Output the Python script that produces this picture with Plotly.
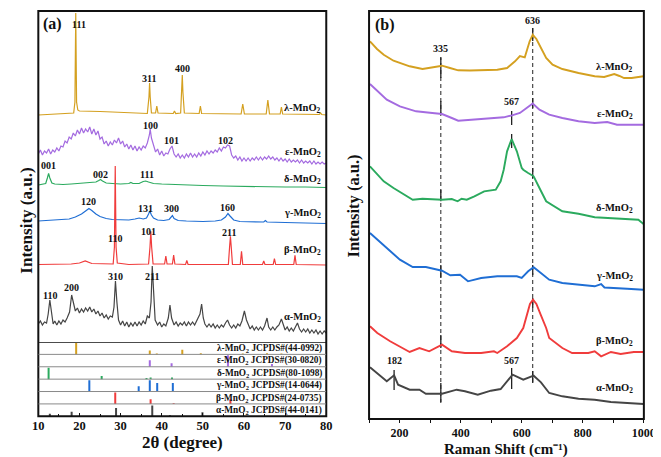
import plotly.graph_objects as go

# ---------------- DATA ----------------
names = ["λ-MnO<sub>2</sub>", "ε-MnO<sub>2</sub>", "δ-MnO<sub>2</sub>",
         "γ-MnO<sub>2</sub>", "β-MnO<sub>2</sub>", "α-MnO<sub>2</sub>"]
colors = ["#D4A020", "#A46BE0", "#2BAA5E", "#1F6ED4", "#F03C3C", "#454545"]
jcpds = ["λ-MnO<sub>2</sub> JCPDS#(44-0992)", "ε-MnO<sub>2</sub> JCPDS#(30-0820)",
         "δ-MnO<sub>2</sub> JCPDS#(80-1098)", "γ-MnO<sub>2</sub> JCPDS#(14-0644)",
         "β-MnO<sub>2</sub> JCPDS#(24-0735)", "α-MnO<sub>2</sub> JCPDS#(44-0141)"]

# XRD patterns (2theta, stacked intensity a.u.)
xrd_lam_t = [10, 12, 15, 17, 18.6, 18.9, 19.1, 19.3, 19.6, 20, 22, 25, 28, 31, 34, 36.5, 36.9, 37.05, 37.2, 37.5,
             38.5, 38.8, 39.1, 42.8, 43.1, 43.4, 44.6, 44.85, 45.0, 45.15, 45.5, 49.1, 49.4, 49.7, 59.3, 59.7,
             60.1, 65.4, 65.8, 66.2, 68.8, 69.1, 69.4, 78.3, 78.6, 78.9, 80]
xrd_lam_i = [227, 227.5, 228, 228.5, 229, 240, 329, 240, 232, 231, 231, 230.5, 230, 229.5, 229, 228.5, 245, 259, 245, 229,
             229, 236, 229, 228.5, 231, 228.5, 229, 250, 267, 250, 229, 228.5, 236, 228.5, 228, 238,
             228, 228, 242, 228, 228, 235, 228, 227.5, 229, 227.5, 227]

xrd_eps_t = [10, 10.5, 11, 11.5, 12, 12.5, 13, 13.5, 14, 14.5, 15, 15.5, 16, 16.5, 17, 17.5, 18, 18.5, 19, 19.5,
             20, 20.5, 21, 21.5, 22, 22.5, 23, 23.5, 24, 24.5, 25, 25.5, 26, 26.5, 27, 27.5, 28, 28.5, 29, 29.5,
             30, 30.5, 31, 31.5, 32, 32.5, 33, 33.5, 34, 34.5, 35, 35.5, 36, 36.5, 37, 37.2, 37.5, 38, 38.5, 39,
             39.5, 40, 40.5, 41, 41.5, 42, 42.5, 43, 43.5, 44, 44.5, 45, 45.5, 46, 46.5, 47, 47.5, 48, 48.5, 49,
             49.5, 50, 50.5, 51, 51.5, 52, 52.5, 53, 53.5, 54, 54.5, 55, 55.5, 56, 56.5, 57, 57.5, 58, 58.5, 59,
             59.5, 60, 60.5, 61, 61.5, 62, 62.5, 63, 63.5, 64, 64.5, 65, 65.5, 66, 66.5, 67, 67.5, 68, 68.5, 69,
             69.5, 70, 70.5, 71, 71.5, 72, 72.5, 73, 73.5, 74, 74.5, 75, 75.5, 76, 76.5, 77, 77.5, 78, 78.5, 79,
             79.5, 80]
xrd_eps_i = [188, 192, 187, 191, 189, 193, 188, 192, 190, 194, 191, 196, 195, 201, 199, 205, 203, 209, 206, 212,
             208, 214, 209, 213, 210, 215, 208, 213, 207, 211, 203, 205, 198, 201, 196, 200, 197, 202, 199, 204,
             198, 201, 195, 198, 193, 197, 192, 196, 191, 195, 192, 196, 194, 199, 207, 213, 204, 196, 190, 193,
             187, 191, 186, 189, 188, 193, 196, 188, 185, 188, 184, 187, 184, 188, 185, 189, 185, 188, 185, 189,
             186, 190, 187, 191, 188, 191, 189, 192, 190, 194, 191, 195, 194, 197, 196, 187, 184, 186, 182, 185,
             181, 184, 181, 184, 181, 184, 182, 185, 182, 185, 182, 185, 183, 186, 183, 185, 182, 184, 181, 184,
             181, 183, 180, 183, 180, 182, 180, 182, 179, 182, 179, 181, 179, 181, 178, 181, 178, 180, 178, 180,
             178, 179]

xrd_del_t = [10, 11, 11.8, 12.2, 12.5, 12.8, 13.3, 14, 16, 18, 20, 22, 24, 24.7, 25.1, 25.6, 26.5, 28, 30, 32, 32.5,
             33, 34.5, 35.5, 36.1, 36.8, 38, 40, 45, 50, 55, 60, 65, 70, 75, 80]
xrd_del_i = [157, 157.5, 158.5, 164, 168.5, 164, 159, 158, 157.5, 158, 158.5, 159, 160, 161.5, 162.5, 161, 159, 158.5,
             158, 158.5, 159.5, 158.5, 158.5, 160.5, 161, 160, 158.5, 158, 157, 156.5, 156, 155.5, 155.5, 155, 155,
             154.5]

xrd_gam_t = [10, 12, 14, 16, 17.5, 19, 20.5, 21.5, 22.3, 23, 24, 25, 26.5, 28, 30, 32, 33.5, 34.5, 35.5, 36.3, 36.8,
             37.1, 37.5, 38, 39, 40.5, 41.8, 42.3, 42.6, 43, 44, 46, 50, 53, 54.5, 55.5, 56.1, 56.6, 57.5, 59, 62,
             64.8, 65.2, 65.6, 70, 75, 80]
xrd_gam_i = [121, 121.5, 121.5, 122, 123, 125, 128, 131, 133.5, 131.5, 128, 125.5, 123.5, 122.5, 122, 122, 123, 124,
             123, 124, 128, 131, 127, 124, 122, 121.5, 122.5, 125.5, 126.5, 123.5, 121.5, 121, 120.5, 121, 122, 125,
             128.5, 126, 122, 120.5, 120, 120, 121.5, 120, 119.5, 119, 118.5]

xrd_bet_t = [10, 15, 18, 20, 21.4, 23, 26, 28.2, 28.5, 28.7, 28.9, 29.2, 32, 36.8, 37.15, 37.35, 37.55, 37.9, 40.7,
             41.0, 41.3, 42.6, 42.9, 43.2, 45.8, 46.1, 46.4, 56.2, 56.5, 56.7, 56.9, 57.2, 59.1, 59.4, 59.7, 64.5,
             64.8, 65.1, 67.1, 67.4, 67.7, 72.1, 72.4, 72.7, 80]
xrd_bet_i = [77.5, 77.5, 78, 79, 81, 78.5, 78, 78, 95, 176, 95, 79, 77.5, 78, 95, 110.7, 95, 78, 78,
             86, 78, 78, 87, 78, 77.5, 81.5, 77.5, 77.5, 95, 105.7, 95, 77.5, 77.5, 90.7, 77.5, 77.5,
             81, 77.5, 77.5, 83.3, 77.5, 77.5, 86.7, 77.5, 77]

xrd_alp_t = [10, 10.5, 11, 11.5, 12, 12.4, 12.8, 13.2, 13.6, 14, 14.5, 15, 15.5, 16, 16.5, 17, 17.6, 18.1, 18.6, 19,
             19.5, 20, 20.5, 21, 21.5, 22, 22.5, 23, 23.5, 24, 24.5, 25, 25.5, 26, 26.5, 27, 27.5, 28, 28.4, 28.75,
             29.1, 29.5, 30, 30.5, 31, 31.5, 32, 32.5, 33, 33.5, 34, 34.5, 35, 35.5, 36, 36.5, 37, 37.4, 37.7, 38.0,
             38.4, 39, 39.5, 40, 40.5, 41, 41.6, 42.0, 42.4, 43, 43.5, 44, 44.5, 45, 45.5, 46, 46.5, 47, 47.5, 48,
             48.5, 49.3, 49.7, 50.1, 50.5, 51, 51.5, 52, 52.5, 53, 53.5, 54, 54.5, 55, 55.5, 56, 56.5, 57, 57.5, 58,
             58.5, 59, 59.5, 60.1, 60.6, 61, 61.5, 62, 62.5, 63, 63.5, 64, 64.5, 65, 65.6, 66, 66.5, 67, 67.5, 68,
             68.5, 69.1, 69.6, 70, 70.5, 71, 71.5, 72, 72.5, 73, 73.5, 74, 74.5, 75, 75.5, 76, 76.5, 77, 77.5, 78,
             78.5, 79, 79.5, 80]
xrd_alp_i = [18, 21, 17, 20, 19, 28, 42, 27, 18, 21, 17, 21, 18, 22, 20, 24, 30, 47, 36, 31,
             34, 29, 33, 30, 34, 31, 35, 30, 33, 28, 31, 26, 29, 24, 27, 23, 26, 25, 35, 61,
             40, 22, 17, 21, 16, 20, 15, 19, 16, 20, 16, 20, 17, 21, 18, 26, 24, 40, 76, 45,
             22, 17, 20, 15, 18, 16, 24, 37, 24, 17, 20, 16, 19, 17, 20, 16, 20, 17, 20, 17,
             21, 28, 38, 24, 18, 15, 18, 15, 18, 14, 17, 14, 17, 15, 19, 22, 17, 14, 17, 14,
             18, 16, 21, 31, 22, 17, 13, 16, 12, 15, 12, 15, 12, 16, 24, 15, 12, 15, 12, 15,
             17, 23, 16, 12, 15, 11, 14, 11, 15, 19, 13, 10, 13, 10, 13, 9, 12, 9, 12, 8,
             11, 8, 11, 9]

xrd_t = [xrd_lam_t, xrd_eps_t, xrd_del_t, xrd_gam_t, xrd_bet_t, xrd_alp_t]
xrd_i = [xrd_lam_i, xrd_eps_i, xrd_del_i, xrd_gam_i, xrd_bet_i, xrd_alp_i]

# JCPDS reference sticks (2theta, relative intensity)
ref_pos = [[19.2, 37.1, 38.8, 45.0, 49.5, 59.7, 65.6, 69.1],
           [37.1, 42.4, 56.1, 66.8],
           [12.5, 25.4, 36.3, 37.3, 42.5],
           [22.4, 34.4, 37.1, 38.9, 42.7],
           [28.7, 37.3, 42.9, 56.7],
           [12.8, 18.1, 28.9, 37.7, 42.0, 49.9]]
ref_int = [[1.0, 0.35, 0.08, 0.4, 0.1, 0.08, 0.1, 0.08],
           [0.57, 0.3, 1.0, 0.25],
           [1.0, 0.27, 0.1, 0.15, 0.15],
           [1.0, 0.46, 1.0, 0.75, 0.75],
           [1.0, 0.4, 0.05, 0.4],
           [0.22, 0.4, 0.73, 0.95, 0.1, 0.35]]

# Raman spectra (cm-1, stacked intensity a.u.)
ram_lam_x = [103, 126, 148, 180, 233, 275, 305, 339, 365, 392, 430, 467, 520, 552, 578, 594, 610, 626, 636,
             648, 658, 680, 701, 733, 786, 839, 870, 903, 920, 935, 960, 999]
ram_lam_y = [377.7, 370, 364.3, 358.3, 352.7, 350, 351.5, 353.3, 351, 348.7, 348.5, 348.7, 349.3, 351, 357.7,
             363, 361.7, 377.7, 384.3, 380, 374.3, 361, 354.3, 350, 346, 342.7, 342, 345, 343, 341, 341, 342.7]
ram_eps_x = [103, 127, 158, 201, 254, 307, 339, 371, 392, 435, 488, 541, 568, 594, 616, 636, 658, 690, 733,
             786, 839, 860, 880, 912, 950, 999]
ram_eps_y = [335, 327.7, 319.3, 312.7, 307.7, 306, 305, 301, 298.3, 299.3, 300.3, 301.7, 303.7, 306, 311,
             315.5, 309.3, 304.3, 301, 297.7, 296, 296.5, 297, 294.3, 294.5, 294.3]
ram_del_x = [103, 148, 180, 243, 275, 339, 371, 390, 403, 420, 445, 477, 515, 531, 541, 552, 567, 584, 600,
             605, 621, 639, 658, 680, 733, 786, 839, 880, 945, 982, 999]
ram_del_y = [252.7, 237.7, 231, 219.3, 220.3, 219.3, 220, 217.7, 220.3, 219.3, 222.7, 227.7, 229.3, 237.7,
             249.3, 267.7, 280, 267.7, 251, 249.3, 246, 242.7, 231, 217.7, 207.7, 205.3, 201.7, 201, 199.3,
             199.3, 195]
ram_gam_x = [103, 148, 180, 201, 243, 286, 339, 366, 398, 424, 467, 520, 584, 600, 621, 639, 658, 690, 733,
             786, 839, 860, 871, 945, 999]
ram_gam_y = [186, 174.3, 165, 159.3, 152, 152, 148.3, 143.7, 144.3, 137.7, 141, 142.7, 142.7, 141, 147.7,
             151.7, 147, 139.3, 136, 134.3, 132.7, 135, 131.5, 130.3, 129.3]
ram_bet_x = [103, 127, 169, 201, 233, 265, 297, 339, 371, 414, 467, 509, 520, 552, 584, 605, 616, 627, 637,
             648, 662, 680, 690, 733, 765, 818, 839, 860, 892, 924, 967, 999]
ram_bet_y = [92.7, 86, 77.7, 72.7, 67, 71, 67.7, 74.3, 67.7, 66, 66, 67.7, 66, 72.7, 81, 91, 104.3, 115,
             119.3, 115, 104.3, 91, 81, 71, 66, 66, 67.7, 62.7, 67, 65, 67, 67]
ram_alp_x = [103, 127, 158, 182, 195, 233, 265, 286, 339, 387, 414, 456, 499, 531, 552, 570, 605, 639, 663,
             690, 733, 786, 839, 892, 999]
ram_alp_y = [51.7, 46, 37.7, 43.7, 34.3, 29.3, 29.3, 25.3, 25.3, 29.3, 27.7, 24.3, 28.3, 30, 37.7, 44.3,
             39.3, 43.3, 36.7, 26, 22.7, 20.3, 19.3, 17, 15]
ram_x = [ram_lam_x, ram_eps_x, ram_del_x, ram_gam_x, ram_bet_x, ram_alp_x]
ram_y = [ram_lam_y, ram_eps_y, ram_del_y, ram_gam_y, ram_bet_y, ram_alp_y]

# peak labels
xrd_lbl_text = ["111", "311", "400", "100", "101", "102", "001", "002", "111", "120", "131", "300", "160",
                "110", "101", "211", "110", "200", "310", "211"]
xrd_lbl_t = [19.8, 37.0, 45.0, 37.2, 42.4, 55.6, 12.4, 25.1, 36.5, 22.1, 36.0, 42.4, 55.9,
             28.7, 36.7, 56.3, 12.8, 18.0, 28.7, 37.6]
xrd_lbl_i = [318, 264, 274, 217, 202, 202, 177, 168, 168, 141, 134, 133.3, 135,
             103.3, 111, 109.7, 46.3, 55, 66, 65.7]
xrd_name_i = [234, 190, 162.5, 129, 92, 25]
ram_name_y = [351.7, 305, 211, 142.7, 77.7, 30.3]
ram_lbl_text = ["636", "335", "567", "182", "567"]
ram_lbl_x = [636, 335, 567, 182, 567]
ram_lbl_y = [398.3, 371, 317.7, 58.7, 58.7]
dash_x = [335, 636]
dash_top = [361, 391]
dash_bot = [16, 37]
# solid markers: (position, lower, upper)
mark_x = [335, 335, 335, 335, 335, 335, 636, 636, 636, 636, 636, 636, 567, 567, 567, 182]
mark_lo = [341, 305, 217.7, 141, 71, 17, 378, 311, 241, 144, 111, 36, 294, 271, 30, 29]
mark_hi = [362, 318, 229.3, 154, 84, 36, 391, 321, 251, 154, 121, 48, 308, 285, 51, 49]

# ---------------- FIGURE ----------------
W, H = 661, 457
FONT = "Liberation Serif"


def px(x):
    return x / W


def py(y):
    return 1 - y / H


fig = go.Figure()

for k in range(6):
    fig.add_trace(go.Scatter(x=xrd_t[k], y=xrd_i[k], mode="lines", xaxis="x", yaxis="y",
                             line=dict(color=colors[k], width=1.2), showlegend=False, hoverinfo="skip"))

# sticks
for k in range(6):
    base = 5 - k
    sx, sy = [], []
    for p, h in zip(ref_pos[k], ref_int[k]):
        sx += [p, p, None]
        sy += [base, base + 0.92 * h, None]
    fig.add_trace(go.Scatter(x=sx, y=sy, mode="lines", xaxis="x", yaxis="y2",
                             line=dict(color=colors[k], width=2), showlegend=False, hoverinfo="skip"))

# Raman dashed lines
for xv, t, b in zip(dash_x, dash_top, dash_bot):
    fig.add_trace(go.Scatter(x=[xv, xv], y=[b, t], mode="lines", xaxis="x2", yaxis="y3",
                             line=dict(color="#222", width=1, dash="4px,3px"), showlegend=False, hoverinfo="skip"))
mx, my = [], []
for xv, lo, hi in zip(mark_x, mark_lo, mark_hi):
    mx += [xv, xv, None]
    my += [lo, hi, None]
fig.add_trace(go.Scatter(x=mx, y=my, mode="lines", xaxis="x2", yaxis="y3",
                         line=dict(color="#222", width=1.3), showlegend=False, hoverinfo="skip"))

for k in range(6):
    fig.add_trace(go.Scatter(x=ram_x[k], y=ram_y[k], mode="lines", xaxis="x2", yaxis="y3",
                             line=dict(color=colors[k], width=1.9),
                             showlegend=False, hoverinfo="skip"))

ann = []
bold = dict(family=FONT, color="#111", weight="bold")
C = dict(xanchor="center", yanchor="middle", showarrow=False)
R = dict(xanchor="right", yanchor="middle", showarrow=False)
for txt, t, i in zip(xrd_lbl_text, xrd_lbl_t, xrd_lbl_i):
    ann.append(dict(x=t, y=i, xref="x", yref="y", text=txt, font=dict(size=10, **bold), **C))
for k in range(6):
    ann.append(dict(x=79.2, y=xrd_name_i[k], xref="x", yref="y", text=names[k],
                    font=dict(size=10.5, **bold), **R))
    ann.append(dict(x=79.5, y=5 - k + 0.47, xref="x", yref="y2", text=jcpds[k],
                    font=dict(size=9.3, **bold), **R))
    ann.append(dict(x=972, y=ram_name_y[k], xref="x2", yref="y3", text=names[k],
                    font=dict(size=10.5, **bold), **R))
for txt, xv, yv in zip(ram_lbl_text, ram_lbl_x, ram_lbl_y):
    ann.append(dict(x=xv, y=yv, xref="x2", yref="y3", text=txt, font=dict(size=10, **bold), **C))
ann += [
    dict(x=px(40), y=py(16), xref="paper", yref="paper", text="(a)", font=dict(size=16, **bold), **C),
    dict(x=px(381), y=py(17), xref="paper", yref="paper", text="(b)", font=dict(size=16, **bold), **C),
    dict(x=px(12), y=py(213), xref="paper", yref="paper", text="Intensity (a.u.)", textangle=-90,
         font=dict(size=17, **bold), **C),
    dict(x=px(348), y=py(198), xref="paper", yref="paper", text="Intensity (a.u.)", textangle=-90,
         font=dict(size=16.5, **bold), **C),
    dict(x=px(173), y=py(434), xref="paper", yref="paper", text="2θ (degree)",
         font=dict(size=17, **bold), **C),
    dict(x=px(506), y=py(441), xref="paper", yref="paper", text="Raman Shift (cm⁻¹)",
         font=dict(size=15, **bold), **C),
]

shapes = [
    dict(type="rect", xref="paper", yref="paper", x0=px(25), x1=px(321), y0=py(408.3), y1=py(3),
         line=dict(color="#111", width=2)),
    dict(type="rect", xref="paper", yref="paper", x0=px(365), x1=px(647.5), y0=py(411), y1=py(3),
         line=dict(color="#111", width=2)),
]
for r in range(1, 6):
    shapes.append(dict(type="line", xref="x", yref="y2", x0=10, x1=80, y0=r, y1=r,
                       line=dict(color="#8a8a8a", width=1)))
shapes.append(dict(type="line", xref="x", yref="y2", x0=10, x1=80, y0=6, y1=6,
                   line=dict(color="#111", width=1.3)))

tickfont = dict(family=FONT, size=12.5, color="#111", weight="bold")
tickfont_b = dict(family=FONT, size=12, color="#111", weight="bold")
fig.update_layout(
    width=W, height=H, margin=dict(l=0, r=0, t=0, b=0),
    paper_bgcolor="white", plot_bgcolor="rgba(0,0,0,0)",
    xaxis=dict(domain=[px(25), px(321)], range=[10, 80], anchor="y2", dtick=10, tick0=10,
               ticks="inside", ticklen=3, tickcolor="#111", tickwidth=1.2, showgrid=False,
               zeroline=False, showline=False, tickfont=tickfont,
               minor=dict(dtick=5, ticks="inside", ticklen=2, tickcolor="#111")),
    yaxis=dict(domain=[py(334), py(3)], range=[0, 331], visible=False, fixedrange=True),
    yaxis2=dict(domain=[py(408.3), py(334)], range=[0, 6], visible=False),
    xaxis2=dict(domain=[px(365), px(647.5)], range=[100, 1000], anchor="y3", dtick=200, tick0=0,
                ticks="outside", ticklen=3, tickcolor="#111", tickwidth=1.2, showgrid=False,
                zeroline=False, showline=False, tickfont=tickfont_b,
                minor=dict(dtick=100, ticks="outside", ticklen=3, tickcolor="#111")),
    yaxis3=dict(domain=[py(411), py(3)], range=[0, 408], visible=False),
    annotations=ann, shapes=shapes,
)

fig.write_html("out.html")
